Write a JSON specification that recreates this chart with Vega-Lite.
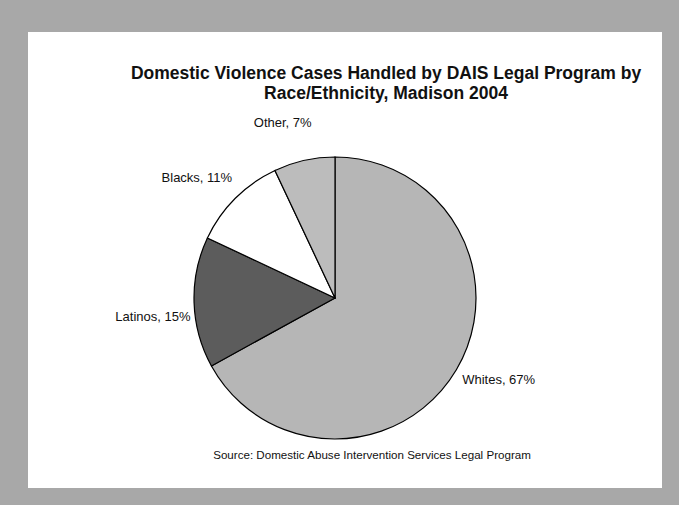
{
  "$schema": "https://vega.github.io/schema/vega-lite/v6.json",
  "autosize": {"type": "pad"},
  "padding": {"left": 28, "top": 32, "right": 17, "bottom": 17},
  "background": "#a8a8a8",
  "config": {
    "view": {"fill": "#ffffff", "stroke": null},
    "font": "Liberation Sans"
  },
  "title": {
    "text": ["Domestic Violence Cases Handled by DAIS Legal Program by", "Race/Ethnicity, Madison 2004"],
    "font": "Liberation Sans",
    "fontSize": 17.5,
    "fontWeight": "bold",
    "color": "#111111",
    "anchor": "middle",
    "frame": "group",
    "lineHeight": 20,
    "offset": -70,
    "dx": 41
  },
  "vconcat": [
    {
      "width": 634,
      "height": 456,
      "view": {"fill": "#ffffff", "stroke": null},
      "title": {
        "text": "Source: Domestic Abuse Intervention Services Legal Program",
        "orient": "bottom",
        "font": "Liberation Sans",
        "fontSize": 11.6,
        "fontWeight": "normal",
        "color": "#111111",
        "anchor": "middle",
        "frame": "group",
        "offset": -38,
        "dx": 27
      },
      "data": {
        "values": [
          {"group": "Whites", "pct": 67, "order": 1, "label": "Whites, 67%"},
          {"group": "Latinos", "pct": 15, "order": 2, "label": "Latinos, 15%"},
          {"group": "Blacks", "pct": 11, "order": 3, "label": "Blacks, 11%"},
          {"group": "Other", "pct": 7, "order": 4, "label": "Other, 7%"}
        ]
      },
      "encoding": {
        "theta": {"field": "pct", "type": "quantitative", "stack": true},
        "order": {"field": "order", "type": "quantitative"}
      },
      "layer": [
        {
          "mark": {"type": "arc", "outerRadius": 141, "x": 307, "y": 266, "stroke": "#000000", "strokeWidth": 1.2},
          "encoding": {
            "color": {
              "field": "group",
              "type": "nominal",
              "scale": {"domain": ["Whites", "Latinos", "Blacks", "Other"], "range": ["#b6b6b6", "#5c5c5c", "#ffffff", "#bcbcbc"]},
              "legend": null
            }
          }
        },
        {
          "mark": {"type": "text", "radius": 183, "thetaOffset": -0.07, "x": 307, "y": 266, "fontSize": 13, "font": "Liberation Sans", "color": "#111111"},
          "encoding": {
            "text": {"field": "label"}
          }
        }
      ]
    }
  ]
}
